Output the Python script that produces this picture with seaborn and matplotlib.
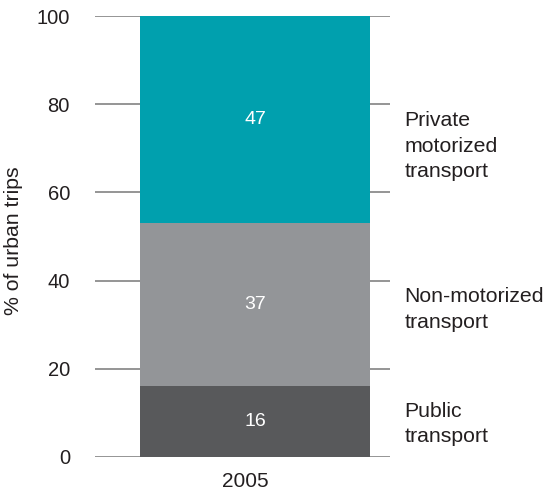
"""
Modal split of urban trips (2005)
=================================

Single stacked bar with the share of urban trips by transport mode.
"""

# Libraries
import pandas as pd
import seaborn as sns
import matplotlib.pyplot as plt
import matplotlib.transforms as mtransforms

# ---------------------------------
# Constants
# ---------------------------------
year = ["2005"]
modes = ["Public\ntransport",
         "Non-motorized\ntransport",
         "Private\nmotorized\ntransport"]
shares = [16, 37, 47]
colors = ["#58595b", "#939598", "#00a0ae"]
label_pos = [7.5, 33.5, 70.5]   # where the mode names sit on the y axis

# ---------------------------------
# Main
# ---------------------------------
sns.set_theme(style="white")
plt.rcParams['font.family'] = ['Liberation Sans', 'DejaVu Sans']

# Cumulative tops for stacking
data = pd.DataFrame({"year": year * len(modes), "mode": modes, "share": shares})
data["top"] = data.share.cumsum()
data["mid"] = data.top - data.share / 2

f = plt.figure(figsize=(5.5, 4.93), dpi=100)
ax = f.add_axes([95 / 550, 1 - 457 / 493, 295 / 550, 441 / 493])

# Draw tallest first so the lower segments sit on top
for i in reversed(range(len(data))):
    sns.barplot(x=data.year.iloc[[i]], y=data.top.iloc[[i]],
                color=colors[i], width=0.8, saturation=1,
                linewidth=0, zorder=3, ax=ax)

# Values inside the segments
for i, row in data.iterrows():
    ax.text(0, row.mid, str(row.share), color="white",
            ha="center", va="center", fontsize=14, zorder=4)

# Mode names on the right
trans = mtransforms.blended_transform_factory(ax.transAxes, ax.transData)
for name, y in zip(modes, label_pos):
    ax.text(1.05, y, name, transform=trans, ha="left", va="center",
            fontsize=15.3, color="#231f20", linespacing=1.45)

# Axes
ax.set_ylim(0, 100)
ax.set_xlim(-0.5565, 0.4696)
ax.set_yticks(range(0, 101, 20))
ax.set_xticks([-0.035], year)
ax.yaxis.grid(True, color="#8c8c8c", linewidth=1.3, zorder=0)
ax.set_axisbelow(True)
sns.despine(ax=ax, left=True, bottom=True, right=True, top=True)
ax.tick_params(axis="y", length=0, pad=18, labelsize=14.5, labelcolor="#231f20")
ax.tick_params(axis="x", length=0, pad=10.5, labelsize=15, labelcolor="#231f20")
ax.set_xlabel("")
ax.set_ylabel("% of urban trips", fontsize=15.3, color="#231f20")
ax.yaxis.set_label_coords(-72 / 295, 0.49)

f.savefig("out.png", dpi=100)
